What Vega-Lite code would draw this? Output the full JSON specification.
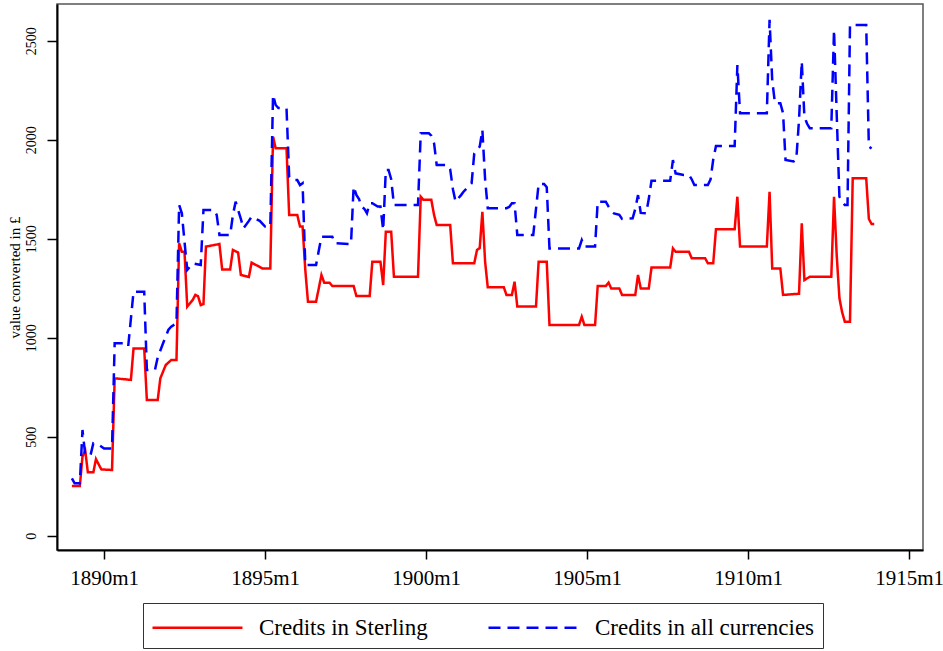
{
  "$schema": "https://vega.github.io/schema/vega-lite/v6.json",
  "width": 866,
  "height": 546,
  "autosize": {"type": "none"},
  "padding": {"left": 57, "top": 4, "right": 20, "bottom": 101},
  "background": "white",
  "config": {
    "font": "Liberation Serif",
    "view": {"stroke": "#555555", "strokeWidth": 1.5}
  },
  "datasets": {
    "sterling": [
      {"date": "1889-01", "value": 251}, {"date": "1889-04", "value": 251}, {"date": "1889-05", "value": 400},
      {"date": "1889-06", "value": 430}, {"date": "1889-07", "value": 320}, {"date": "1889-09", "value": 320},
      {"date": "1889-10", "value": 387}, {"date": "1889-11", "value": 360}, {"date": "1889-12", "value": 335},
      {"date": "1890-04", "value": 332}, {"date": "1890-05", "value": 795}, {"date": "1890-11", "value": 787},
      {"date": "1890-12", "value": 946}, {"date": "1891-04", "value": 946}, {"date": "1891-05", "value": 685},
      {"date": "1891-09", "value": 685}, {"date": "1891-10", "value": 795}, {"date": "1891-12", "value": 862},
      {"date": "1892-02", "value": 887}, {"date": "1892-04", "value": 887}, {"date": "1892-05", "value": 1477},
      {"date": "1892-06", "value": 1434}, {"date": "1892-07", "value": 1434}, {"date": "1892-08", "value": 1157},
      {"date": "1892-10", "value": 1190}, {"date": "1892-11", "value": 1216}, {"date": "1892-12", "value": 1210},
      {"date": "1893-01", "value": 1165}, {"date": "1893-02", "value": 1170}, {"date": "1893-03", "value": 1460},
      {"date": "1893-08", "value": 1473}, {"date": "1893-09", "value": 1345}, {"date": "1893-12", "value": 1345},
      {"date": "1894-01", "value": 1443}, {"date": "1894-03", "value": 1430}, {"date": "1894-04", "value": 1317},
      {"date": "1894-07", "value": 1307}, {"date": "1894-08", "value": 1379}, {"date": "1894-12", "value": 1350},
      {"date": "1895-03", "value": 1350}, {"date": "1895-04", "value": 2015}, {"date": "1895-05", "value": 1956},
      {"date": "1895-09", "value": 1956}, {"date": "1895-10", "value": 1620}, {"date": "1896-01", "value": 1620},
      {"date": "1896-02", "value": 1561}, {"date": "1896-03", "value": 1561}, {"date": "1896-04", "value": 1342},
      {"date": "1896-05", "value": 1182}, {"date": "1896-08", "value": 1182}, {"date": "1896-09", "value": 1250},
      {"date": "1896-10", "value": 1317}, {"date": "1896-11", "value": 1278}, {"date": "1897-01", "value": 1278},
      {"date": "1897-02", "value": 1261}, {"date": "1897-10", "value": 1261}, {"date": "1897-11", "value": 1211},
      {"date": "1898-04", "value": 1211}, {"date": "1898-05", "value": 1384}, {"date": "1898-08", "value": 1384},
      {"date": "1898-09", "value": 1266}, {"date": "1898-10", "value": 1535}, {"date": "1898-12", "value": 1535},
      {"date": "1899-01", "value": 1308}, {"date": "1899-10", "value": 1308}, {"date": "1899-11", "value": 1712},
      {"date": "1899-12", "value": 1696}, {"date": "1900-03", "value": 1696}, {"date": "1900-04", "value": 1620},
      {"date": "1900-05", "value": 1569}, {"date": "1900-10", "value": 1569}, {"date": "1900-11", "value": 1376},
      {"date": "1901-07", "value": 1376}, {"date": "1901-08", "value": 1443}, {"date": "1901-09", "value": 1453},
      {"date": "1901-10", "value": 1636}, {"date": "1901-11", "value": 1384}, {"date": "1901-12", "value": 1255},
      {"date": "1902-06", "value": 1255}, {"date": "1902-07", "value": 1216}, {"date": "1902-09", "value": 1216},
      {"date": "1902-10", "value": 1283}, {"date": "1902-11", "value": 1157}, {"date": "1903-06", "value": 1157},
      {"date": "1903-07", "value": 1384}, {"date": "1903-10", "value": 1384}, {"date": "1903-11", "value": 1064},
      {"date": "1904-10", "value": 1064}, {"date": "1904-11", "value": 1106}, {"date": "1904-12", "value": 1064},
      {"date": "1905-04", "value": 1064}, {"date": "1905-05", "value": 1261}, {"date": "1905-08", "value": 1261},
      {"date": "1905-09", "value": 1278}, {"date": "1905-10", "value": 1249}, {"date": "1906-01", "value": 1249},
      {"date": "1906-02", "value": 1216}, {"date": "1906-07", "value": 1216}, {"date": "1906-08", "value": 1317},
      {"date": "1906-09", "value": 1249}, {"date": "1906-12", "value": 1249}, {"date": "1907-01", "value": 1354},
      {"date": "1907-08", "value": 1354}, {"date": "1907-09", "value": 1451}, {"date": "1907-10", "value": 1434},
      {"date": "1908-03", "value": 1434}, {"date": "1908-04", "value": 1401}, {"date": "1908-09", "value": 1401},
      {"date": "1908-10", "value": 1376}, {"date": "1908-12", "value": 1376}, {"date": "1909-01", "value": 1547},
      {"date": "1909-08", "value": 1547}, {"date": "1909-09", "value": 1712}, {"date": "1909-10", "value": 1460},
      {"date": "1910-08", "value": 1460}, {"date": "1910-09", "value": 1737}, {"date": "1910-10", "value": 1350},
      {"date": "1911-01", "value": 1350}, {"date": "1911-02", "value": 1216}, {"date": "1911-08", "value": 1222},
      {"date": "1911-09", "value": 1578}, {"date": "1911-10", "value": 1291}, {"date": "1911-12", "value": 1308},
      {"date": "1912-08", "value": 1308}, {"date": "1912-09", "value": 1712}, {"date": "1912-10", "value": 1420},
      {"date": "1912-11", "value": 1200}, {"date": "1912-12", "value": 1130}, {"date": "1913-01", "value": 1081},
      {"date": "1913-03", "value": 1081}, {"date": "1913-04", "value": 1805}, {"date": "1913-09", "value": 1805},
      {"date": "1913-10", "value": 1600}, {"date": "1913-11", "value": 1574}, {"date": "1913-12", "value": 1574}
    ],
    "allcur": [
      {"date": "1889-01", "value": 290}, {"date": "1889-02", "value": 265}, {"date": "1889-04", "value": 265},
      {"date": "1889-05", "value": 534}, {"date": "1889-06", "value": 408}, {"date": "1889-08", "value": 408},
      {"date": "1889-09", "value": 467}, {"date": "1889-11", "value": 460}, {"date": "1890-01", "value": 441},
      {"date": "1890-04", "value": 441}, {"date": "1890-05", "value": 972}, {"date": "1890-08", "value": 972},
      {"date": "1890-10", "value": 955}, {"date": "1890-12", "value": 1232}, {"date": "1891-04", "value": 1232},
      {"date": "1891-05", "value": 837}, {"date": "1891-08", "value": 837}, {"date": "1891-09", "value": 900},
      {"date": "1891-11", "value": 972}, {"date": "1892-01", "value": 1040}, {"date": "1892-02", "value": 1056},
      {"date": "1892-04", "value": 1073}, {"date": "1892-05", "value": 1670}, {"date": "1892-06", "value": 1628},
      {"date": "1892-07", "value": 1485}, {"date": "1892-08", "value": 1342}, {"date": "1892-10", "value": 1375},
      {"date": "1893-01", "value": 1367}, {"date": "1893-02", "value": 1645}, {"date": "1893-06", "value": 1645},
      {"date": "1893-07", "value": 1620}, {"date": "1893-08", "value": 1519}, {"date": "1893-12", "value": 1519},
      {"date": "1894-01", "value": 1620}, {"date": "1894-02", "value": 1687}, {"date": "1894-03", "value": 1645},
      {"date": "1894-04", "value": 1600}, {"date": "1894-05", "value": 1552}, {"date": "1894-07", "value": 1590},
      {"date": "1894-08", "value": 1611}, {"date": "1894-11", "value": 1590}, {"date": "1895-01", "value": 1561},
      {"date": "1895-03", "value": 1561}, {"date": "1895-04", "value": 2226}, {"date": "1895-05", "value": 2175},
      {"date": "1895-06", "value": 2160}, {"date": "1895-09", "value": 2158}, {"date": "1895-10", "value": 1813},
      {"date": "1895-11", "value": 1796}, {"date": "1896-01", "value": 1796}, {"date": "1896-02", "value": 1770},
      {"date": "1896-03", "value": 1780}, {"date": "1896-04", "value": 1367}, {"date": "1896-08", "value": 1367},
      {"date": "1896-09", "value": 1440}, {"date": "1896-10", "value": 1510}, {"date": "1897-02", "value": 1510},
      {"date": "1897-03", "value": 1477}, {"date": "1897-08", "value": 1473}, {"date": "1897-09", "value": 1473},
      {"date": "1897-10", "value": 1763}, {"date": "1897-11", "value": 1721}, {"date": "1897-12", "value": 1700},
      {"date": "1898-01", "value": 1662}, {"date": "1898-02", "value": 1650}, {"date": "1898-03", "value": 1628},
      {"date": "1898-04", "value": 1679}, {"date": "1898-05", "value": 1679}, {"date": "1898-07", "value": 1662},
      {"date": "1898-08", "value": 1662}, {"date": "1898-09", "value": 1544}, {"date": "1898-10", "value": 1847},
      {"date": "1898-11", "value": 1847}, {"date": "1898-12", "value": 1800}, {"date": "1899-01", "value": 1670},
      {"date": "1899-10", "value": 1670}, {"date": "1899-11", "value": 2032}, {"date": "1900-02", "value": 2032},
      {"date": "1900-03", "value": 2020}, {"date": "1900-04", "value": 1982}, {"date": "1900-05", "value": 1872},
      {"date": "1900-09", "value": 1872}, {"date": "1900-10", "value": 1850}, {"date": "1900-11", "value": 1750},
      {"date": "1900-12", "value": 1687}, {"date": "1901-02", "value": 1720}, {"date": "1901-03", "value": 1737},
      {"date": "1901-06", "value": 1780}, {"date": "1901-07", "value": 1931}, {"date": "1901-09", "value": 1965},
      {"date": "1901-10", "value": 2049}, {"date": "1901-11", "value": 1800}, {"date": "1901-12", "value": 1654},
      {"date": "1902-07", "value": 1654}, {"date": "1902-08", "value": 1660}, {"date": "1902-09", "value": 1679},
      {"date": "1902-10", "value": 1679}, {"date": "1902-11", "value": 1519}, {"date": "1903-05", "value": 1519},
      {"date": "1903-06", "value": 1650}, {"date": "1903-07", "value": 1776}, {"date": "1903-09", "value": 1776},
      {"date": "1903-10", "value": 1760}, {"date": "1903-11", "value": 1451}, {"date": "1904-10", "value": 1451},
      {"date": "1904-11", "value": 1493}, {"date": "1904-12", "value": 1460}, {"date": "1905-04", "value": 1460},
      {"date": "1905-05", "value": 1687}, {"date": "1905-08", "value": 1687}, {"date": "1905-09", "value": 1662},
      {"date": "1905-10", "value": 1640}, {"date": "1905-11", "value": 1628}, {"date": "1906-01", "value": 1620},
      {"date": "1906-02", "value": 1600}, {"date": "1906-06", "value": 1603}, {"date": "1906-07", "value": 1650},
      {"date": "1906-08", "value": 1720}, {"date": "1906-09", "value": 1630}, {"date": "1906-11", "value": 1628},
      {"date": "1906-12", "value": 1700}, {"date": "1907-01", "value": 1793}, {"date": "1907-08", "value": 1793},
      {"date": "1907-09", "value": 1897}, {"date": "1907-10", "value": 1830}, {"date": "1908-01", "value": 1822},
      {"date": "1908-03", "value": 1822}, {"date": "1908-04", "value": 1800}, {"date": "1908-05", "value": 1771},
      {"date": "1908-10", "value": 1771}, {"date": "1908-11", "value": 1800}, {"date": "1908-12", "value": 1900},
      {"date": "1909-01", "value": 1968}, {"date": "1909-08", "value": 1968}, {"date": "1909-09", "value": 2377},
      {"date": "1909-10", "value": 2133}, {"date": "1910-08", "value": 2133}, {"date": "1910-09", "value": 2605},
      {"date": "1910-10", "value": 2300}, {"date": "1910-11", "value": 2184}, {"date": "1911-01", "value": 2184},
      {"date": "1911-02", "value": 2133}, {"date": "1911-03", "value": 1897}, {"date": "1911-06", "value": 1890},
      {"date": "1911-07", "value": 1900}, {"date": "1911-08", "value": 2100}, {"date": "1911-09", "value": 2394},
      {"date": "1911-10", "value": 2116}, {"date": "1911-11", "value": 2080}, {"date": "1911-12", "value": 2058},
      {"date": "1912-08", "value": 2058}, {"date": "1912-09", "value": 2554}, {"date": "1912-10", "value": 2133},
      {"date": "1912-11", "value": 1712}, {"date": "1912-12", "value": 1690}, {"date": "1913-01", "value": 1670},
      {"date": "1913-02", "value": 1670}, {"date": "1913-03", "value": 2579}, {"date": "1913-09", "value": 2579},
      {"date": "1913-10", "value": 1965}, {"date": "1913-11", "value": 1955}
    ]
  },
  "layer": [
    {
      "data": {"name": "sterling"},
      "transform": [{"calculate": "'Credits in Sterling'", "as": "series"}],
      "mark": {"type": "line", "strokeWidth": 2.5, "clip": true},
      "encoding": {
        "x": {"field": "date", "type": "temporal"},
        "y": {"field": "value", "type": "quantitative"},
        "color": {"field": "series", "type": "nominal"},
        "strokeDash": {"field": "series", "type": "nominal"}
      }
    },
    {
      "data": {"name": "allcur"},
      "transform": [{"calculate": "'Credits in all currencies'", "as": "series"}],
      "mark": {"type": "line", "strokeWidth": 2.5, "clip": true},
      "encoding": {
        "x": {
          "field": "date", "type": "temporal",
          "scale": {"type": "utc", "domain": [{"year": 1888, "month": 7, "date": 16, "utc": true}, {"year": 1915, "month": 6, "date": 7, "utc": true}], "nice": false},
          "axis": {
            "title": null, "grid": false,
            "values": [{"year": 1890, "month": 1, "date": 1, "utc": true}, {"year": 1895, "month": 1, "date": 1, "utc": true}, {"year": 1900, "month": 1, "date": 1, "utc": true}, {"year": 1905, "month": 1, "date": 1, "utc": true}, {"year": 1910, "month": 1, "date": 1, "utc": true}, {"year": 1915, "month": 1, "date": 1, "utc": true}],
            "labelExpr": "utcFormat(datum.value, '%Y') + 'm1'",
            "labelFont": "Liberation Serif", "labelFontSize": 21, "labelColor": "black",
            "labelPadding": 8, "labelFlush": false, "labelOverlap": false,
            "tickSize": 9, "tickColor": "black", "tickWidth": 1.5,
            "domainColor": "black", "domainWidth": 2
          }
        },
        "y": {
          "field": "value", "type": "quantitative",
          "scale": {"domain": [-72, 2685], "nice": false, "zero": false},
          "axis": {
            "title": "value converted in £", "grid": false,
            "values": [0, 500, 1000, 1500, 2000, 2500], "format": "d",
            "labelAngle": -90, "labelAlign": "center", "labelBaseline": "alphabetic",
            "labelFont": "Liberation Serif", "labelFontSize": 14, "labelColor": "black",
            "labelPadding": 12, "labelFlush": false,
            "tickSize": 10, "tickColor": "black", "tickWidth": 1.5,
            "domainColor": "black", "domainWidth": 2,
            "titleFont": "Liberation Serif", "titleFontSize": 15, "titleFontWeight": "normal", "titleColor": "black",
            "titleAngle": -90, "titleAlign": "center", "titleBaseline": "middle",
            "titleX": -43, "titleY": 273
          }
        },
        "color": {
          "field": "series", "type": "nominal",
          "scale": {"domain": ["Credits in Sterling", "Credits in all currencies"], "range": ["#ff0000", "#0000ff"]},
          "legend": {
            "title": null, "orient": "none", "direction": "horizontal",
            "legendX": 86, "legendY": 599,
            "symbolType": "M-1,0H5", "symbolSize": 900, "symbolStrokeWidth": 2.5,
            "labelFont": "Liberation Serif", "labelFontSize": 23, "labelColor": "black",
            "labelLimit": 0, "labelOffset": 75, "columnPadding": 55, "padding": 8,
            "strokeColor": "#333333", "fillColor": "white"
          }
        },
        "strokeDash": {
          "field": "series", "type": "nominal",
          "scale": {"domain": ["Credits in Sterling", "Credits in all currencies"], "range": [[1, 0], [12, 7]]},
          "legend": null
        }
      }
    }
  ]
}
